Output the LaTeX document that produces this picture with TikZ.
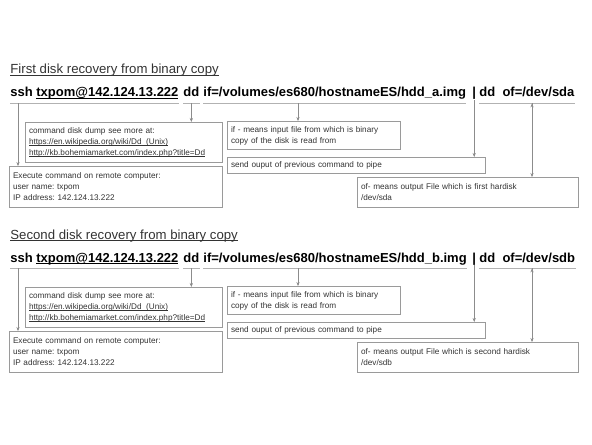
\documentclass[tikz,border=0pt]{standalone}
\usepackage{fontspec}
\setmainfont{Liberation Sans}
\usetikzlibrary{arrows.meta}
\definecolor{boxgray}{HTML}{9A9A9A}
\definecolor{linegray}{HTML}{8C8C8C}
\definecolor{textgray}{HTML}{333333}
\frenchspacing

% underline close to the text
\newsavebox\ulbox
\newcommand{\ulx}[1]{\leavevmode\sbox\ulbox{#1}\rlap{\rule[-0.7pt]{\wd\ulbox}{0.3pt}}\usebox\ulbox}

\tikzset{
  note/.style={draw=boxgray, line width=0.5pt, anchor=north west, align=left,
    inner xsep=1.75pt, inner ysep=0pt, text=textgray,
    font=\fontsize{4.1}{5.5}\selectfont},
  cmd/.style={anchor=base west, inner sep=0pt, font=\fontsize{6.5}{7}\selectfont\bfseries},
  ttl/.style={anchor=base west, inner sep=0pt, text=textgray, font=\fontsize{6.6}{7}\selectfont},
  seg/.style={draw=black!30, line width=0.6pt},
  arr/.style={draw=linegray, line width=0.5pt, -{Stealth[length=2pt,width=1.6pt]}}
}

\begin{document}
\begin{tikzpicture}[x=0.5pt,y=-0.5pt]
    \useasboundingbox (0,0) rectangle (592,444);

    % first disk
    \node[ttl] (title1) at (10,74) {\ulx{First disk recovery from binary copy}};
    \node[cmd] (ssh1) at (10,97) {ssh \ulx{txpom@142.124.13.222}};
    \node[cmd] (dd1) at (183,97) {dd};
    \node[cmd] (img1) at (203,97) {if=/volumes/es680/hostnameES/hdd\_a.img};
    \node[cmd] (pipe1) at (472,97) {|};
    \node[cmd] (ofs1) at (479,97) {dd\ \ of=/dev/sda};

    \node[note, text width=95pt, minimum height=20pt] (cmd1) at (25,122)
      {command disk dump see more at:\\ \ulx{https://en.wikipedia.org/wiki/Dd\_(Unix)}\\ \ulx{http://kb.bohemiamarket.com/index.php?title=Dd}};
    \node[note, text width=103pt, minimum height=20.5pt] (exe1) at (9,166)
      {Execute command on remote computer:\\ user name: txpom\\ IP address: 142.124.13.222};
    \node[note, text width=83pt, minimum height=14pt] (if1) at (227,121)
      {if - means input file from which is binary\\ copy of the disk is read from};
    \node[note, text width=125.5pt, minimum height=8pt] (send1) at (227,157)
      {send ouput of previous command to pipe};
    \node[note, text width=107pt, minimum height=15pt] (ofbox1) at (357,177)
      {of- means output File which is first hardisk\\ /dev/sda};

    \draw[seg] ([yshift=-3.2pt]ssh1.base west) -- ([yshift=-3.2pt]ssh1.base east);
    \draw[seg] ([yshift=-3.2pt]dd1.base west) -- ([yshift=-3.2pt]dd1.base east);
    \draw[seg] ([yshift=-3.2pt]img1.base west) -- ([yshift=-3.2pt]img1.base east);
    \draw[seg] ([yshift=-3.2pt]ofs1.base west) -- ([yshift=-3.2pt]ofs1.base east);

    \coordinate (e1) at ([xshift=4pt,yshift=-3.2pt]ssh1.base west);
    \coordinate (c1) at ([yshift=-3.2pt]dd1.base);
    \coordinate (f1) at ([xshift=47.5pt,yshift=-3.2pt]img1.base west);
    \coordinate (o1) at ([xshift=26.5pt,yshift=-3.2pt]ofs1.base west);
    \path[arr]
    (e1) edge (e1 |- exe1.north)
    (c1) edge (c1 |- cmd1.north)
    (f1) edge (f1 |- if1.north)
    (pipe1.south) edge (pipe1.south |- send1.north)
    (o1) edge (o1 |- ofbox1.north);

    % second disk
    \node[ttl] (title2) at (10,239) {\ulx{Second disk recovery from binary copy}};
    \node[cmd] (ssh2) at (10,262) {ssh \ulx{txpom@142.124.13.222}};
    \node[cmd] (dd2) at (183,262) {dd};
    \node[cmd] (img2) at (203,262) {if=/volumes/es680/hostnameES/hdd\_b.img};
    \node[cmd] (pipe2) at (472,262) {|};
    \node[cmd] (ofs2) at (479,262) {dd\ \ of=/dev/sdb};

    \node[note, text width=95pt, minimum height=20pt] (cmd2) at (25,287)
      {command disk dump see more at:\\ \ulx{https://en.wikipedia.org/wiki/Dd\_(Unix)}\\ \ulx{http://kb.bohemiamarket.com/index.php?title=Dd}};
    \node[note, text width=103pt, minimum height=20.5pt] (exe2) at (9,331)
      {Execute command on remote computer:\\ user name: txpom\\ IP address: 142.124.13.222};
    \node[note, text width=83pt, minimum height=14pt] (if2) at (227,286)
      {if - means input file from which is binary\\ copy of the disk is read from};
    \node[note, text width=125.5pt, minimum height=8pt] (send2) at (227,322)
      {send ouput of previous command to pipe};
    \node[note, text width=107pt, minimum height=15pt] (ofbox2) at (357,342)
      {of- means output File which is second hardisk\\ /dev/sdb};

    \draw[seg] ([yshift=-3.2pt]ssh2.base west) -- ([yshift=-3.2pt]ssh2.base east);
    \draw[seg] ([yshift=-3.2pt]dd2.base west) -- ([yshift=-3.2pt]dd2.base east);
    \draw[seg] ([yshift=-3.2pt]img2.base west) -- ([yshift=-3.2pt]img2.base east);
    \draw[seg] ([yshift=-3.2pt]ofs2.base west) -- ([yshift=-3.2pt]ofs2.base east);

    \coordinate (e2) at ([xshift=4pt,yshift=-3.2pt]ssh2.base west);
    \coordinate (c2) at ([yshift=-3.2pt]dd2.base);
    \coordinate (f2) at ([xshift=47.5pt,yshift=-3.2pt]img2.base west);
    \coordinate (o2) at ([xshift=26.5pt,yshift=-3.2pt]ofs2.base west);
    \path[arr]
    (e2) edge (e2 |- exe2.north)
    (c2) edge (c2 |- cmd2.north)
    (f2) edge (f2 |- if2.north)
    (pipe2.south) edge (pipe2.south |- send2.north)
    (o2) edge (o2 |- ofbox2.north);
\end{tikzpicture}
\end{document}
